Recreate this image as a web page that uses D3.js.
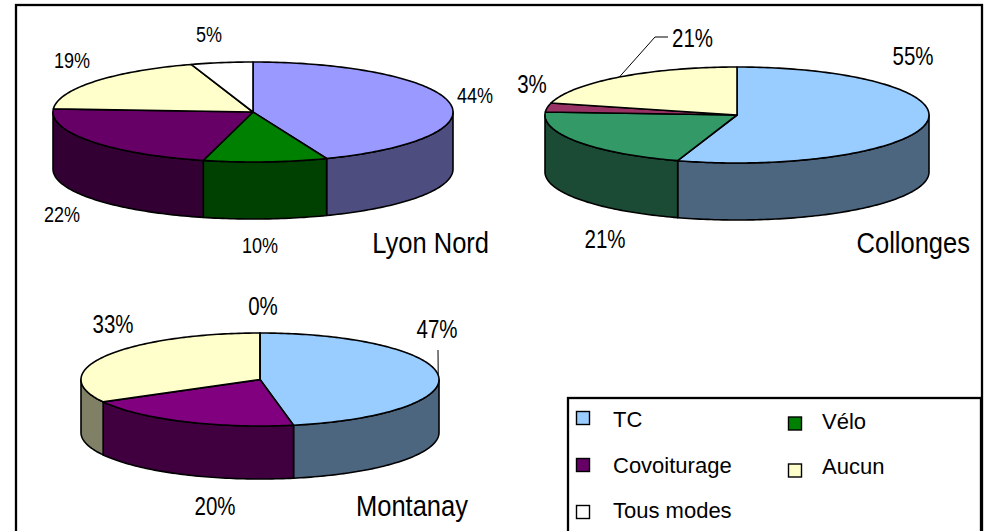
<!DOCTYPE html>
<html>
<head>
<meta charset="utf-8">
<script src="https://cdn.jsdelivr.net/npm/d3@7"></script>
<style>
  html, body { margin: 0; padding: 0; background: #fff; }
  svg { display: block; }
  .pct, .title { font-family: 'Liberation Sans', Arial, sans-serif; fill: #000; }
  .leg { font-family: 'Liberation Sans', Arial, sans-serif; font-size: 22px; fill: #000; }
</style>
</head>
<body>
<script>
// categories and values (percent), null = not shown in that chart
const categories = ['TC', 'Vélo', 'Covoiturage', 'Aucun', 'Tous modes'];
const lyonNord = [44, 10, 22, 19, 5];
const collonges = [55, 21, 3, 21, null];
const montanay = [47, null, 20, 33, 0];

// colours: top face / side wall, per chart
const legendColors = ['#99CCFF', '#008000', '#660066', '#FFFFCC', '#FFFFFF'];
const lyonTop = ['#9999FF', '#008000', '#660066', '#FFFFCC', '#FFFFFF'];
const lyonSide = ['#4D4D80', '#004000', '#330033', '#808066', '#808080'];
const collTop = ['#99CCFF', '#339966', '#993366', '#FFFFCC', '#FFFFFF'];
const collSide = ['#4D6680', '#1B4B35', '#4D1A33', '#808066', '#808080'];
const montTop = ['#99CCFF', '#008000', '#800080', '#FFFFCC', '#FFFFFF'];
const montSide = ['#4D6680', '#004000', '#400040', '#808066', '#808080'];

var svg = d3.select('body').append('svg')
  .attr('width', 989)
  .attr('height', 531);

// outer frame
svg.append('rect')
  .attr('x', 16).attr('y', 5)
  .attr('width', 966).attr('height', 560)
  .attr('fill', '#fff')
  .attr('stroke', '#000')
  .attr('stroke-width', 2.3);

var line = d3.line();

// narrow text: regular font squeezed horizontally
function narrowText(g, cls, x, y, size, sx, anchor, txt) {
  return g.append('text')
    .attr('class', cls)
    .attr('transform', 'translate(' + x + ',' + y + ') scale(' + sx + ',1)')
    .attr('text-anchor', anchor)
    .style('font-size', size + 'px')
    .text(txt);
}

function drawPie(values, opt) {
  var g = svg.append('g');
  var items = values
    .map(function (v, i) { return { cat: i, value: v }; })
    .filter(function (d) { return d.value !== null; });
  var arcs = d3.pie().sort(null).value(function (d) { return d.value; })(items);

  function pt(a, dy) {
    return [opt.cx + opt.rx * Math.sin(a), opt.cy - opt.ry * Math.cos(a) + dy];
  }
  function rim(a0, a1, dy) {
    var n = Math.max(2, Math.ceil(Math.abs(a1 - a0) / 0.02));
    return d3.range(n + 1).map(function (k) { return pt(a0 + (a1 - a0) * k / n, dy); });
  }

  // side walls (front half only)
  arcs.forEach(function (a) {
    var s = Math.max(a.startAngle, Math.PI / 2);
    var e = Math.min(a.endAngle, Math.PI * 1.5);
    if (e <= s) return;
    var pts = rim(s, e, 0).concat(rim(e, s, opt.depth));
    g.append('path')
      .attr('d', line(pts) + 'Z')
      .attr('fill', opt.side[a.data.cat])
      .attr('stroke', '#000')
      .attr('stroke-width', 1.6)
      .attr('stroke-linejoin', 'round');
  });

  // top faces
  arcs.forEach(function (a) {
    var pts = [[opt.cx, opt.cy]].concat(rim(a.startAngle, a.endAngle, 0));
    g.append('path')
      .attr('d', line(pts) + 'Z')
      .attr('fill', opt.top[a.data.cat])
      .attr('stroke', '#000')
      .attr('stroke-width', 1.6)
      .attr('stroke-linejoin', 'round');
  });

  // labels
  arcs.forEach(function (a, i) {
    var lp = opt.labels[i];
    var lx = opt.cx + lp[0], ly = opt.cy + lp[1];
    if (lp[2]) {
      var mid = (a.startAngle + a.endAngle) / 2;
      var p = pt(mid, 0);
      g.append('path')
        .attr('d', line([p].concat(lp[2].map(function (q) { return [opt.cx + q[0], opt.cy + q[1]]; }))))
        .attr('fill', 'none')
        .attr('stroke', '#000')
        .attr('stroke-width', 1);
    }
    narrowText(g, 'pct', lx, ly, opt.labelSize, 0.82, lp[3] || 'middle',
      d3.format('d')(a.data.value) + '%');
  });

  narrowText(g, 'title', opt.titleX, opt.titleY, 29, 0.88, 'end', opt.title);
}

drawPie(lyonNord, {
  cx: 253, cy: 112, rx: 200, ry: 50, depth: 57,
  top: lyonTop, side: lyonSide, labelSize: 22,
  title: 'Lyon Nord', titleX: 489, titleY: 253,
  labels: [[222, -9], [7, 141], [-191, 110], [-181, -44], [-44, -70]]
});

drawPie(collonges, {
  cx: 737, cy: 115, rx: 192, ry: 48, depth: 57,
  top: collTop, side: collSide, labelSize: 25,
  title: 'Collonges', titleX: 970, titleY: 253,
  labels: [[176, -50], [-132, 133], [-205, -22], [-65, -68, [[-82, -78], [-69, -78]], 'start']]
});

drawPie(montanay, {
  cx: 260, cy: 379.5, rx: 179, ry: 46.5, depth: 53,
  top: montTop, side: montSide, labelSize: 25,
  title: 'Montanay', titleX: 468, titleY: 516,
  labels: [[177, -41.5, [[178, -29.5]]], [-45, 135.5], [-147, -46.5], [3, -64.5]]
});

// legend
var legend = svg.append('g');
legend.append('rect')
  .attr('x', 568).attr('y', 398)
  .attr('width', 413).attr('height', 200)
  .attr('fill', '#fff')
  .attr('stroke', '#000')
  .attr('stroke-width', 2.3);

categories.forEach(function (c, i) {
  var col = i === 4 ? 0 : i % 2;
  var row = Math.floor(i / 2);
  var sx = 576 + col * 212;
  var sy = 411 + row * 47 + col * 5.5;
  legend.append('rect')
    .attr('x', sx + 0.5).attr('y', sy + 0.5)
    .attr('width', 13).attr('height', 13)
    .attr('fill', legendColors[i])
    .attr('stroke', '#000')
    .attr('stroke-width', 1.4);
  legend.append('text')
    .attr('class', 'leg')
    .attr('x', sx + 37 + col * -3)
    .attr('y', 427 + row * 45.5 + col * 1.5)
    .text(c);
});
</script>
</body>
</html>
